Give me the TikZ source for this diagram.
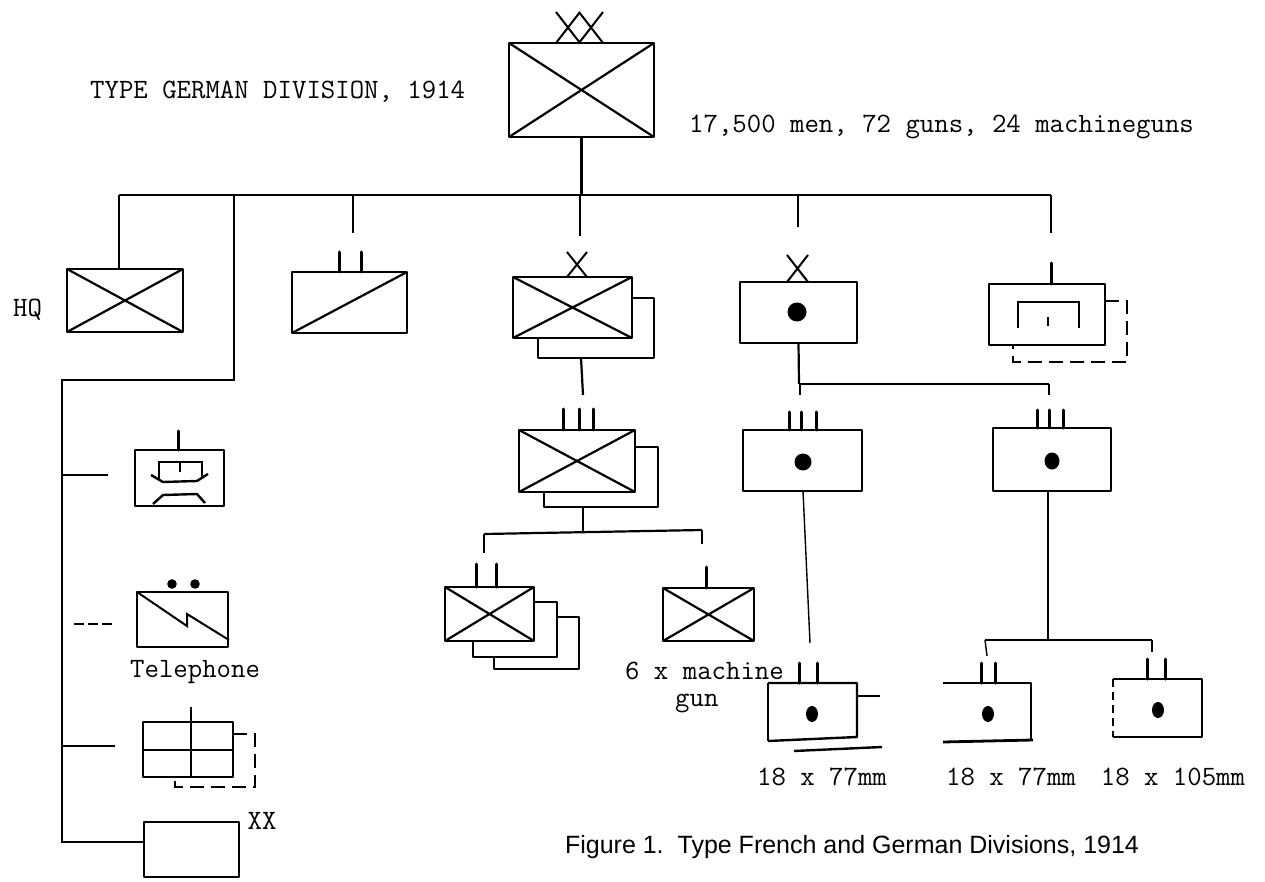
\documentclass[tikz,border=0pt]{standalone}
\usepackage{fontspec}
\newfontfamily\capfont{Liberation Sans}
\begin{document}
\begin{tikzpicture}[x=1pt,y=-1pt,
  unit/.style={draw, rectangle, line width=2.6pt, inner sep=0pt, outer sep=0pt, line join=round},
  ghost/.style={rectangle, inner sep=0pt, outer sep=0pt},
  cross/.style={line width=2.2pt},
  link/.style={line width=2.2pt},
  faint/.style={line width=1.4pt},
  tick/.style={line width=3pt, line cap=round},
  back/.style={line width=2.4pt, line join=round},
  dashback/.style={line width=2.4pt, dash pattern=on 14pt off 7pt},
  tw/.style={font=\fontsize{28}{27}\selectfont\ttfamily, inner sep=0pt},
  capt/.style={font=\capfont\fontsize{25}{28}\selectfont, inner sep=0pt}]
\useasboundingbox (0,0) rectangle (1265,882);

% ---------- division ----------
\node[unit, minimum width=145pt, minimum height=94pt] (div) at (581.5,90) {};
\draw[cross] (div.north west) -- (div.south east) (div.south west) -- (div.north east);
\draw[line width=2pt] (556,12) -- (580,43) (580,12) -- (556,43)
                      (579,12) -- (603,43) (603,12) -- (579,43);
\node[tw, anchor=west] (title) at (90,92) {TYPE GERMAN DIVISION, 1914};
\node[tw, anchor=west] (stats) at (689,127) {17,500 men, 72 guns, 24 machineguns};

% ---------- first row ----------
\node[unit, minimum width=116pt, minimum height=63pt] (hq) at (125,300.5) {};
\draw[cross] (hq.north west) -- (hq.south east) (hq.south west) -- (hq.north east);
\node[tw, anchor=west] (hqlbl) at (13,310) {HQ};

\node[unit, minimum width=115pt, minimum height=61pt] (cav) at (349.5,302.5) {};
\draw[cross] (cav.south west) -- (cav.north east);
\draw[tick] (339,252) -- (339,272) (361,252) -- (361,272);

\node[unit, minimum width=119pt, minimum height=61pt] (bde) at (572.5,307.5) {};
\draw[cross] (bde.north west) -- (bde.south east) (bde.south west) -- (bde.north east);
\draw[back] (632,298) -- (654,298) -- (654,358) -- (538,358) -- (538,338);
\draw[line width=2pt] (567,252) -- (587,277) (587,252) -- (567,277);

\node[unit, minimum width=117pt, minimum height=61pt] (abde) at (798.5,312.5) {};
\fill (797,312) circle[radius=9.5pt];
\draw[line width=2pt] (787,255) -- (808,282) (808,255) -- (787,282);

\node[unit, minimum width=116pt, minimum height=61pt] (pio) at (1047,314.5) {};
\draw[tick] (1051,263) -- (1051,284);
\draw[line width=2.2pt] (1018,328) -- (1018,302) -- (1079,302) -- (1079,328);
\draw[line width=1.8pt] (1048,317) -- (1048,326);
\draw[dashback] (1105,301) -- (1127,301) -- (1127,362) -- (1013,362) -- (1013,345);

% ---------- infantry regiment ----------
\node[unit, minimum width=116pt, minimum height=62pt] (reg) at (577,461) {};
\draw[cross] (reg.north west) -- (reg.south east) (reg.south west) -- (reg.north east);
\draw[back] (635,447) -- (658,447) -- (658,507) -- (544,507) -- (544,492);
\draw[tick] (563,409) -- (563,430) (579,409) -- (579,430) (593,409) -- (593,430);
\draw[link] (581,358) -- (583,395);

% ---------- battalion & MG ----------
\coordinate (rbusL) at (484,534);
\coordinate (rbusR) at (702,530);
\draw[link] (583,507) -- (583,533);
\draw[link] (rbusL) -- (rbusR);
\draw[link] (rbusL) -- (484,553);
\draw[link] (rbusR) -- (702,544);

\node[unit, minimum width=89pt, minimum height=54pt] (bn) at (489.5,614) {};
\draw[cross] (bn.north west) -- (bn.south east) (bn.south west) -- (bn.north east);
\draw[back] (534,602) -- (557,602) -- (557,657) -- (473,657) -- (473,641);
\draw[back] (557,617) -- (579,617) -- (579,669) -- (494,669) -- (494,657);
\draw[tick] (476,564) -- (476,587) (496,564) -- (496,587);

\node[unit, minimum width=91pt, minimum height=53pt] (mg) at (708.5,614.5) {};
\draw[cross] (mg.north west) -- (mg.south east) (mg.south west) -- (mg.north east);
\draw[tick] (706,567) -- (706,588);
\node[tw, anchor=north west, align=left] (mglbl) at (625,662) {6 x machine\\\hspace*{50pt}gun};

% ---------- artillery ----------
\draw[link] (abde.south) -- (799,384);
\coordinate (abusL) at (800,384);
\coordinate (abusR) at (1049,384);
\draw[link] (abusL) -- (abusR);
\draw[link] (abusL) -- (800,395);
\draw[link] (abusR) -- (1049,395);

\node[unit, minimum width=119pt, minimum height=61pt] (areg1) at (802.5,460.5) {};
\fill (803,462) circle[radius=8.5pt];
\draw[tick] (789,412) -- (789,430) (801,412) -- (801,430) (816,412) -- (816,430);

\node[unit, minimum width=118pt, minimum height=63pt] (areg2) at (1052,459.5) {};
\fill (1052,461) ellipse[x radius=7.5pt, y radius=8.5pt];
\draw[tick] (1037,410) -- (1037,428) (1049,410) -- (1049,428) (1063,410) -- (1063,428);

\draw[faint] (803,491) -- (810,643);
\draw[link] (1048,491) -- (1048,640);
\coordinate (bbusL) at (985,640);
\coordinate (bbusR) at (1152,640);
\draw[link] (bbusL) -- (bbusR);
\draw[faint] (bbusL) -- (987,656);
\draw[faint] (bbusR) -- (1152,652);

% battalion A
\node[ghost, minimum width=89pt, minimum height=56pt] (abnA) at (812.5,711) {};
\draw[back] (abnA.north west) -- (abnA.north east) -- (857,737) -- (768,741);
\draw[faint] (768,741) -- (abnA.north west);
\draw[link] (857,696) -- (880,696);
\draw[line width=2.4pt] (794,751) -- (882,747);
\draw[tick] (799,663) -- (799,683) (817,663) -- (817,683);
\fill (812,714) ellipse[x radius=6pt, y radius=8pt];
\node[tw] (lblA) at (822,777) {18 x 77mm};

% battalion B
\node[ghost, minimum width=88pt, minimum height=57pt] (abnB) at (987,711.5) {};
\draw[back] (abnB.north west) -- (abnB.north east) -- (1031,740);
\draw[line width=2.8pt] (943,742) -- (1033,740);
\draw[tick] (981,663) -- (981,683) (995,663) -- (995,683);
\fill (988,714) ellipse[x radius=6pt, y radius=8pt];
\node[tw] (lblB) at (1011,777) {18 x 77mm};

% battalion C
\node[ghost, minimum width=89pt, minimum height=58pt] (abnC) at (1157.5,708) {};
\draw[back] (abnC.south west) -- (abnC.south east) -- (abnC.north east) -- (abnC.north west);
\draw[faint, dash pattern=on 8pt off 5pt] (abnC.north west) -- (abnC.south west);
\draw[tick] (1147,659) -- (1147,679) (1165,659) -- (1165,679);
\fill (1158,710) ellipse[x radius=6pt, y radius=8pt];
\node[tw] (lblC) at (1173,777) {18 x 105mm};

% ---------- left column ----------
\node[unit, minimum width=89pt, minimum height=56pt] (brt) at (179.5,478) {};
\draw[tick] (178,431) -- (178,450);
\draw[line width=2pt] (159,479) -- (159,462) -- (202,462) -- (202,479) (180,462) -- (180,472);
\draw[line width=2.4pt, line join=round] (151,475) -- (163,482) -- (197,481) -- (208,474);
\draw[line width=2.4pt, line join=round] (153,504) -- (163,495) -- (197,494) -- (205,503);

\node[unit, minimum width=91pt, minimum height=55pt] (tel) at (182.5,619.5) {};
\fill (172,584) circle[radius=4.8pt] (195,584) circle[radius=4.8pt];
\draw[line width=2pt] (tel.north west) -- (187,626) -- (187,614) -- (229,640);
\node[tw, anchor=west] (tellbl) at (130,672) {Telephone};

\node[unit, minimum width=90pt, minimum height=55pt] (bak) at (188,749.5) {};
\draw[line width=2pt] (bak.west) -- (bak.east);
\draw[line width=2pt] (191,707) -- (191,777);
\draw[dashback] (233,734) -- (255,734) -- (255,787) -- (175,787) -- (175,777);

\node[unit, minimum width=95pt, minimum height=55pt] (last) at (191.5,849.5) {};
\node[tw] (lastxx) at (262,821) {XX};

% ---------- main bus ----------
\coordinate (busL) at (119,195);
\coordinate (busR) at (1051,195);
\coordinate (bend) at (234,380);
\coordinate (corner) at (62,842);
\draw[link] (div.south) -- (div.south |- busL);
\draw[link] (busL) -- (busR);
\draw[link] (busL) -- (busL |- hq.north);
\draw[link] (234,195) -- (bend) -- (62,380) -- (corner) -- (corner -| last.west);
\draw[link] (62,475) -- (108,475);
\draw[faint, dash pattern=on 10pt off 4pt] (74,624) -- (112,624);
\draw[link] (62,746) -- (115,746);
\draw[faint] (353,195) -- (353,233);
\draw[faint] (580,195) -- (580,236);
\draw[faint] (798,195) -- (798,227);
\draw[faint] (busR) -- (1051,233);

% ---------- caption ----------
\node[capt] (cap) at (852,847) {Figure 1.\ \ Type French and German Divisions, 1914};
\end{tikzpicture}
\end{document}
